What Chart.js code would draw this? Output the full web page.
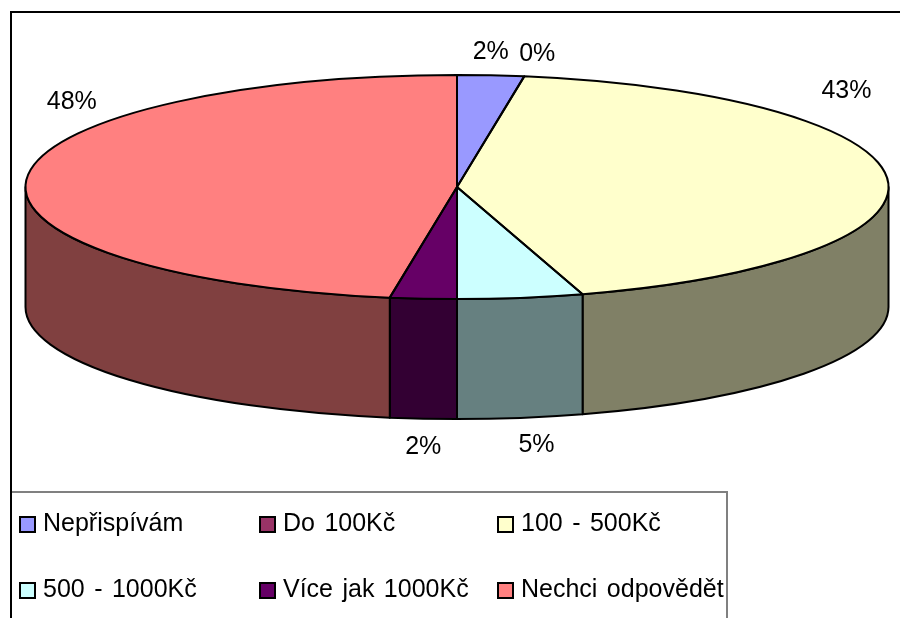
<!DOCTYPE html>
<html>
<head>
<meta charset="utf-8">
<style>
html,body{margin:0;padding:0;background:#fff;overflow:hidden}
canvas{display:block}
</style>
<script src="https://cdn.jsdelivr.net/npm/chart.js@4"></script>
</head>
<body>
<canvas id="c" width="900" height="618"></canvas>
<script>
const categories = ['Nepřispívám','Do 100Kč','100 - 500Kč','500 - 1000Kč','Více jak 1000Kč','Nechci odpovědět'];
const values = [2.49,0,42.81,4.7,2.49,47.51];
const sliceColors = ['#9999FF','#993366','#FFFFCC','#CCFFFF','#660066','#FF8080'];

// Presentation geometry (not data)
const disc = {cx:457, cy:187, rx:431.5, ry:112, depth:120};
const labelOffsets = [[0,-23],[13,-22],[-41,-88],[16,27],[0,28],[45,-76]];
const legendCols = [20,260,498];
const legendRows = [517,583];
const FONT = '25px "Liberation Sans", Arial, sans-serif';

function darken(hex){
  const n = parseInt(hex.slice(1),16);
  const h = v => Math.round(v/2);
  return `rgb(${h(n>>16&255)},${h(n>>8&255)},${h(n&255)})`;
}

const pie3d = {
  id:'pie3d',
  beforeDraw(chart){
    const ctx = chart.ctx;
    ctx.save();
    ctx.fillStyle = '#fff';
    ctx.fillRect(0,0,chart.width,chart.height);
    ctx.restore();
  },
  beforeDatasetsDraw(chart){
    const ctx = chart.ctx, arcs = chart.getDatasetMeta(0).data;
    const {cx,cy,rx,ry,depth} = disc;
    ctx.save();
    ctx.lineWidth = 2;
    ctx.strokeStyle = '#000';
    ctx.lineJoin = 'round';
    arcs.forEach((arc,i)=>{
      const a0 = Math.max(arc.startAngle,0), a1 = Math.min(arc.endAngle,Math.PI);
      if (a1 <= a0) return;
      ctx.beginPath();
      ctx.ellipse(cx,cy,rx,ry,0,a0,a1);
      ctx.ellipse(cx,cy+depth,rx,ry,0,a1,a0,true);
      ctx.closePath();
      ctx.fillStyle = darken(sliceColors[i]);
      ctx.fill();
      ctx.stroke();
    });
    ctx.restore();
    const a = arcs[0];
    ctx.save();
    ctx.translate(cx,cy);
    ctx.scale(rx/a.outerRadius, ry/a.outerRadius);
    ctx.translate(-a.x,-a.y);
  },
  afterDatasetsDraw(chart){
    const ctx = chart.ctx, arcs = chart.getDatasetMeta(0).data;
    ctx.restore();
    const {cx,cy,rx,ry,depth} = disc;
    ctx.save();
    ctx.lineWidth = 2;
    ctx.strokeStyle = '#000';
    ctx.lineJoin = 'round';
    arcs.forEach(arc=>{
      if (arc.endAngle - arc.startAngle <= 0) return;
      ctx.beginPath();
      ctx.moveTo(cx,cy);
      ctx.ellipse(cx,cy,rx,ry,0,arc.startAngle,arc.endAngle);
      ctx.closePath();
      ctx.stroke();
    });
    // data labels
    ctx.font = FONT;
    ctx.fillStyle = '#000';
    ctx.textAlign = 'center';
    ctx.textBaseline = 'middle';
    arcs.forEach((arc,i)=>{
      const m = (arc.startAngle+arc.endAngle)/2;
      const sn = Math.sin(m);
      const x = cx + rx*Math.cos(m) + labelOffsets[i][0];
      const y = cy + ry*sn + (sn>0.5?depth:0) + labelOffsets[i][1];
      ctx.fillText(Math.round(values[i])+'%', x, y);
    });
    ctx.restore();
  },
  afterDraw(chart){
    const ctx = chart.ctx;
    ctx.save();
    // chart frame
    ctx.strokeStyle = '#000';
    ctx.lineWidth = 2;
    ctx.beginPath();
    ctx.moveTo(11,chart.height);
    ctx.lineTo(11,12);
    ctx.lineTo(chart.width,12);
    ctx.stroke();
    // legend box
    ctx.strokeStyle = '#808080';
    ctx.beginPath();
    ctx.moveTo(12,492);
    ctx.lineTo(727,492);
    ctx.lineTo(727,chart.height);
    ctx.stroke();
    // legend entries
    ctx.font = FONT;
    ctx.wordSpacing = '2.5px';
    ctx.textAlign = 'left';
    ctx.textBaseline = 'alphabetic';
    categories.forEach((name,i)=>{
      const x = legendCols[i%3], y = legendRows[Math.floor(i/3)];
      ctx.fillStyle = sliceColors[i];
      ctx.fillRect(x,y,15,15);
      ctx.strokeStyle = '#000';
      ctx.lineWidth = 2;
      ctx.strokeRect(x,y,15,15);
      ctx.fillStyle = '#000';
      ctx.fillText(name, x+23, y+14);
    });
    ctx.restore();
  }
};

new Chart(document.getElementById('c'),{
  type:'pie',
  data:{labels:categories,datasets:[{data:values,backgroundColor:sliceColors,borderWidth:0}]},
  options:{
    responsive:false,
    animation:false,
    layout:{padding:0},
    plugins:{legend:{display:false},tooltip:{enabled:false},title:{display:false}}
  },
  plugins:[pie3d]
});
</script>
</body>
</html>
